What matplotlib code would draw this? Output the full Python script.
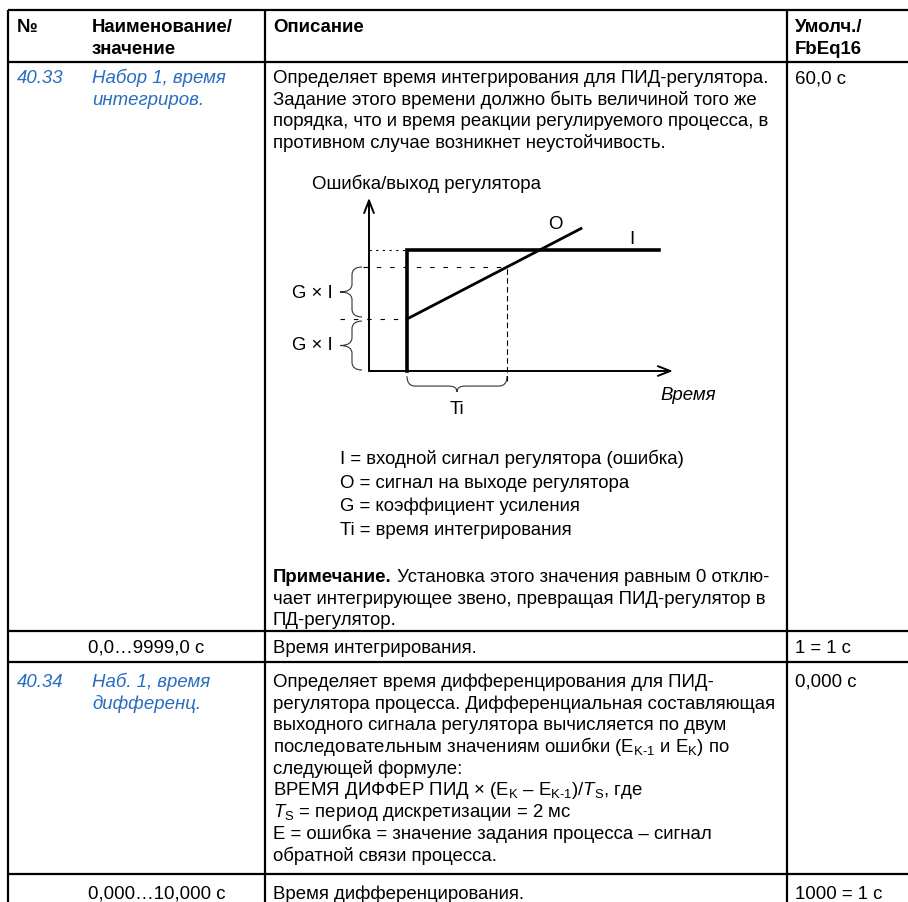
import matplotlib
matplotlib.use('Agg')
import matplotlib.pyplot as plt
from matplotlib.path import Path
from matplotlib.patches import PathPatch

plt.rcParams['font.family'] = ['Liberation Sans', 'DejaVu Sans']
plt.rcParams['mathtext.fontset'] = 'custom'
plt.rcParams['mathtext.rm'] = 'Liberation Sans'
plt.rcParams['mathtext.it'] = 'Liberation Sans:italic'
plt.rcParams['mathtext.bf'] = 'Liberation Sans:bold'

BLUE = '#2a6cbf'
FS = 13.4

# --- table text ---
header_no = '№'
header_name = ['Наименование/', 'значение']
header_desc = 'Описание'
header_def = ['Умолч./', 'FbEq16']

p1_no = '40.33'
p1_name = ['Набор 1, время', 'интегриров.']
p1_desc = ['Определяет время интегрирования для ПИД-регулятора.',
           'Задание этого времени должно быть величиной того же',
           'порядка, что и время реакции регулируемого процесса, в',
           'противном случае возникнет неустойчивость.']
p1_default = '60,0 с'
p1_legend = ['I = входной сигнал регулятора (ошибка)',
             'O = сигнал на выходе регулятора',
             'G = коэффициент усиления',
             'Ti = время интегрирования']
p1_note_bold = 'Примечание.'
p1_note = [' Установка этого значения равным 0 отклю-',
           'чает интегрирующее звено, превращая ПИД-регулятор в',
           'ПД-регулятор.']
p1_range = '0,0…9999,0 с'
p1_range_desc = 'Время интегрирования.'
p1_scale = '1 = 1 с'

EK1 = r'$\mathrm{E}_\mathrm{K\text{-}1}$'
EK = r'$\mathrm{E}_\mathrm{K}$'
TS = r'$T_\mathrm{S}$'

p2_no = '40.34'
p2_name = ['Наб. 1, время', 'дифференц.']
p2_desc = ['Определяет время дифференцирования для ПИД-',
           'регулятора процесса. Дифференциальная составляющая',
           'выходного сигнала регулятора вычисляется по двум',
           'последовательным значениям ошибки (' + EK1 + ' и ' + EK + ') по',
           'следующей формуле:',
           'ВРЕМЯ ДИФФЕР ПИД × (' + EK + ' – ' + EK1 + ')/' + TS + ', где',
           TS + ' = период дискретизации = 2 мс',
           'E = ошибка = значение задания процесса – сигнал',
           'обратной связи процесса.']
p2_default = '0,000 с'
p2_range = '0,000…10,000 с'
p2_range_desc = 'Время дифференцирования.'
p2_scale = '1000 = 1 с'

# --- diagram data (time in Ti units, value in G x I units) ---
step_t = 0.38
ti = 1.0
gi = 1.0
i_level = 2.33
i_t = [step_t, step_t, 2.9]
i_val = [0.0, i_level, i_level]
o_t = [step_t, 2.12]
o_val = [gi, 2.74]

fig = plt.figure(figsize=(9.08, 9.03), dpi=100)
ax = fig.add_axes([0, 0, 1, 1])
ax.set_xlim(0, 908)
ax.set_ylim(903, 0)
ax.axis('off')

# table grid
LW = 1.6
col_x = [8, 265, 787]
row_y = [11, 63, 632, 663, 875]
for x in col_x:
    ax.plot([x, x], [11, 903], color='black', lw=LW, solid_capstyle='butt')
for y in row_y:
    ax.plot([8, 908], [y, y], color='black', lw=LW, solid_capstyle='butt')

X1, X2, X3, X4 = 17, 92, 273, 795
LS = 21.7


def txt(x, y, s, **kw):
    kw.setdefault('fontsize', FS)
    return ax.text(x, y, s, va='baseline', ha='left', **kw)


# header
txt(X1, 32, header_no, fontweight='bold')
for k, s in enumerate(header_name):
    txt(X2, 32 + k * LS, s, fontweight='bold')
txt(X3, 32, header_desc, fontweight='bold')
for k, s in enumerate(header_def):
    txt(X4, 32 + k * LS, s, fontweight='bold')

# row 40.33
b = 83
txt(X1, b, p1_no, color=BLUE, style='italic')
for k, s in enumerate(p1_name):
    txt(X2, b + k * LS, s, color=BLUE, style='italic')
for k, s in enumerate(p1_desc):
    txt(X3, b + k * LS, s)
txt(X4, b, p1_default)

for k, s in enumerate(p1_legend):
    txt(340, 464 + k * 23.7, s)

nb = txt(X3, 582, p1_note_bold, fontweight='bold')
fig.canvas.draw()
bb = nb.get_window_extent(renderer=fig.canvas.get_renderer())
xn = ax.transData.inverted().transform((bb.x1, bb.y0))[0]
txt(xn, 582, p1_note[0])
for k, s in enumerate(p1_note[1:]):
    txt(X3, 582 + (k + 1) * LS, s)

txt(X2 - 4, 653, p1_range)
txt(X3, 653, p1_range_desc)
txt(X4, 653, p1_scale)

# row 40.34
b = 687
txt(X1, b, p2_no, color=BLUE, style='italic')
for k, s in enumerate(p2_name):
    txt(X2, b + k * LS, s, color=BLUE, style='italic')
for k, s in enumerate(p2_desc):
    txt(X3, b + k * LS, s)
txt(X4, b, p2_default)

txt(X2 - 4, 899, p2_range)
txt(X3, 899, p2_range_desc)
txt(X4, 899, p2_scale)

# --- diagram inset ---
OX, OY, SX, SY = 369, 372, 100.0, 52.0   # pixel origin and scale
px0, px1, py0, py1 = 260, 740, 160, 430
d = fig.add_axes([px0 / 908, 1 - py1 / 903, (px1 - px0) / 908, (py1 - py0) / 903])
d.set_xlim((px0 - OX) / SX, (px1 - OX) / SX)
d.set_ylim((OY - py1) / SY, (OY - py0) / SY)
d.axis('off')
d.patch.set_alpha(0)

# axes arrows
d.annotate('', xy=(3.04, 0), xytext=(0, 0),
           arrowprops=dict(arrowstyle='->,head_length=0.9,head_width=0.35', lw=1.4, color='black',
                           shrinkA=0, shrinkB=0))
d.annotate('', xy=(0, 3.33), xytext=(0, 0),
           arrowprops=dict(arrowstyle='->,head_length=0.9,head_width=0.35', lw=1.4, color='black',
                           shrinkA=0, shrinkB=0))

d.plot(i_t, i_val, color='black', lw=2.6, solid_joinstyle='miter')
d.plot(o_t, o_val, color='black', lw=2.0)

# helper dashes
d.plot([0, step_t], [i_level, i_level], color='black', lw=0.8, dashes=(2, 4))
d.plot([-0.06, step_t + ti], [2 * gi, 2 * gi], color='black', lw=0.8, dashes=(4, 8))
d.plot([-0.29, step_t], [gi, gi], color='black', lw=0.8, dashes=(4, 8))
d.plot([step_t + ti, step_t + ti], [-0.19, 2 * gi], color='black', lw=0.8, dashes=(5, 3))


def brace(a, p0, p1, pos, e, dd, r, vertical=True):
    m = (p0 + p1) / 2
    pts = [(pos + e, p0), (pos, p0), (pos, p0 + r), (pos, m - r), (pos, m), (pos - dd, m),
           (pos, m), (pos, m + r), (pos, p1 - r), (pos, p1), (pos + e, p1)]
    if not vertical:
        pts = [(q, p) for p, q in pts]
    codes = [Path.MOVETO, Path.CURVE3, Path.CURVE3, Path.LINETO, Path.CURVE3, Path.CURVE3,
             Path.CURVE3, Path.CURVE3, Path.LINETO, Path.CURVE3, Path.CURVE3]
    a.add_patch(PathPatch(Path(pts, codes), fill=False, lw=0.8, color='#333333'))


brace(d, 0.02, gi - 0.04, -0.17, 0.10, 0.12, 0.15)
brace(d, gi + 0.04, 2 * gi, -0.17, 0.10, 0.12, 0.15)
brace(d, step_t, step_t + ti, -0.29, 0.19, 0.11, 0.08, vertical=False)

d.text(-0.36, 0.5, 'G × I', fontsize=FS, ha='right', va='center')
d.text(-0.36, 1.5, 'G × I', fontsize=FS, ha='right', va='center')
d.text(1.86, 2.83, 'O', fontsize=FS, ha='center', va='center')
d.text(2.63, 2.54, 'I', fontsize=FS, ha='center', va='center')
d.text(step_t + ti / 2, -0.73, 'Ti', fontsize=FS, ha='center', va='center')
d.text(3.19, -0.46, 'Время', fontsize=FS, ha='center', va='center', style='italic')
d.text(-0.57, 3.62, 'Ошибка/выход регулятора', fontsize=FS, ha='left', va='center')

fig.savefig('out.png', dpi=100)
